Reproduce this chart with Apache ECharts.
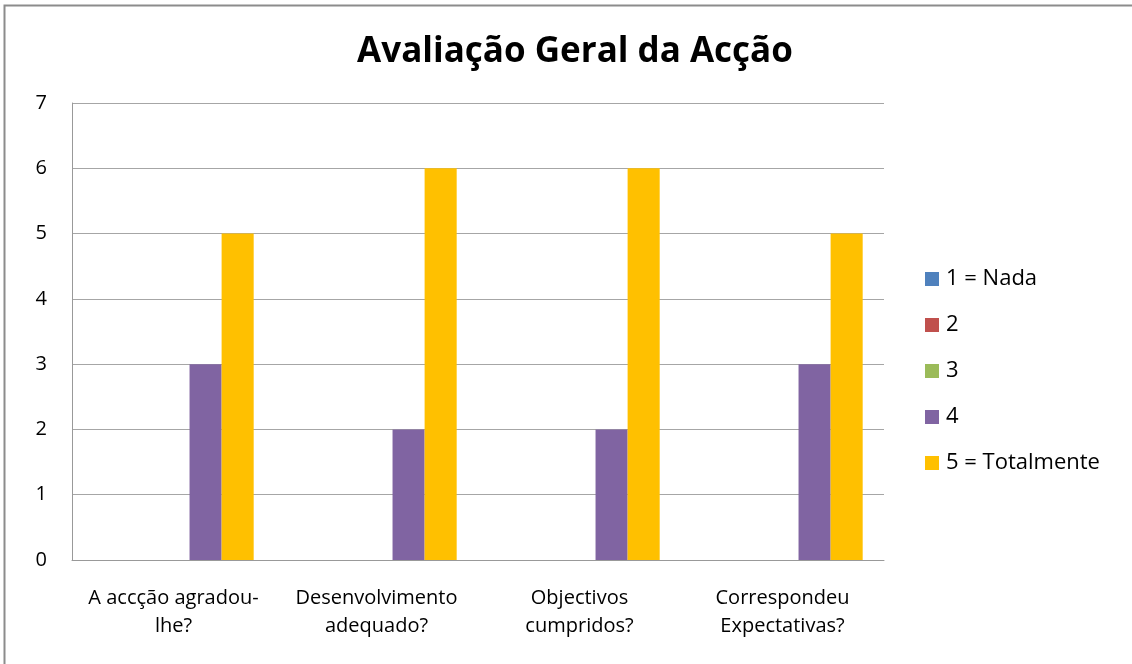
<!DOCTYPE html>
<html>
<head>
<meta charset="utf-8">
<script src="https://cdn.jsdelivr.net/npm/echarts@6/dist/echarts.min.js"></script>
<style>
  html, body { margin: 0; padding: 0; background: #fff; }
  #chart { width: 1132px; height: 664px; }
</style>
</head>
<body>
<div id="chart"></div>
<script>
var categories = ['A accção agradou-\nlhe?', 'Desenvolvimento\nadequado?', 'Objectivos\ncumpridos?', 'Correspondeu\nExpectativas?'];
var seriesNames = ['1 = Nada', '2', '3', '4', '5 = Totalmente'];
var nada = [0, 0, 0, 0];
var dois = [0, 0, 0, 0];
var tres = [0, 0, 0, 0];
var quatro = [3, 2, 2, 3];
var totalmente = [5, 6, 6, 5];
var colors = ['#4F81BD', '#C0504D', '#9BBB59', '#8064A2', '#FFC000'];

var font = '"Open Sans", Lato, sans-serif';
var chart = echarts.init(document.getElementById('chart'));

var values = [nada, dois, tres, quatro, totalmente];
var series = values.map(function (d, i) {
  return {
    name: seriesNames[i],
    type: 'bar',
    data: d,
    barGap: '0%',
    barCategoryGap: '21%',
    itemStyle: { color: colors[i] }
  };
});

var option = {
  animation: false,
  title: {
    text: 'Avaliação Geral da Acção',
    left: 570,
    textAlign: 'center',
    top: 30,
    textStyle: { fontFamily: font, fontSize: 35, fontWeight: 'bold', color: '#000' }
  },
  legend: {
    orient: 'vertical',
    left: 920,
    top: 263,
    itemWidth: 14,
    itemHeight: 14,
    itemGap: 24,
    icon: 'rect',
    textStyle: { fontFamily: font, fontSize: 22, color: '#000', padding: [0, 0, 0, 2] },
    data: seriesNames
  },
  grid: { left: 72, right: 248, top: 103, bottom: 104 },
  xAxis: {
    type: 'category',
    data: categories,
    axisLine: { lineStyle: { color: '#999', width: 1 } },
    axisTick: { show: false },
    axisLabel: { interval: 0, fontFamily: font, fontSize: 20, color: '#000', lineHeight: 28, margin: 24 }
  },
  yAxis: {
    type: 'value',
    min: 0,
    max: 7,
    interval: 1,
    axisLine: { show: true, lineStyle: { color: '#999', width: 1 } },
    axisTick: { show: false },
    splitLine: { lineStyle: { color: '#a6a6a6', width: 1 } },
    axisLabel: { fontFamily: font, fontSize: 20, color: '#000', margin: 25 }
  },
  graphic: [{
    type: 'rect',
    shape: { x: 4.5, y: 5.5, width: 1200, height: 700 },
    style: { fill: 'none', stroke: '#8c8c8c', lineWidth: 2 },
    silent: true
  }],
  series: series
};
chart.setOption(option);
</script>
</body>
</html>
